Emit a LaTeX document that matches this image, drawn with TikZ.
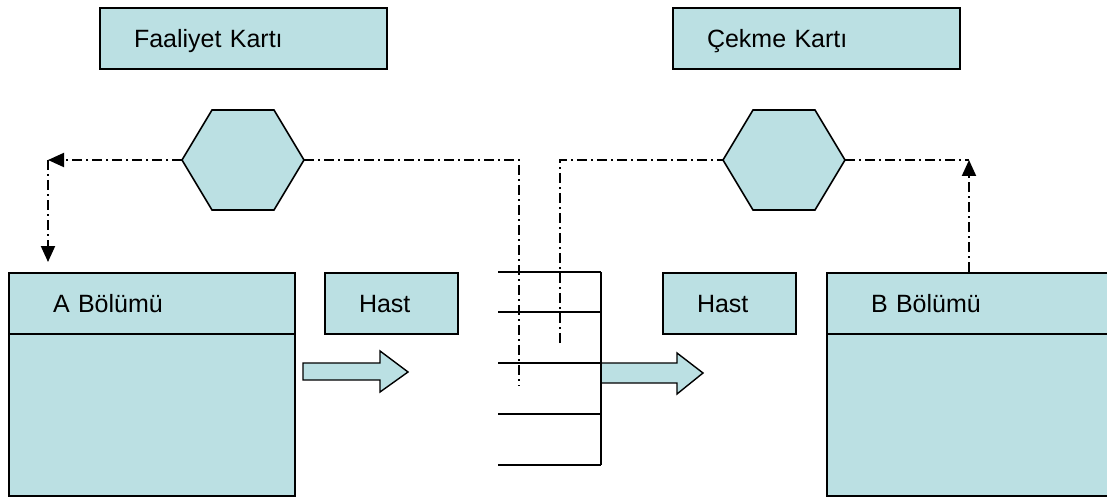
\documentclass[tikz,border=0pt]{standalone}
\usepackage{fontspec}
\setmainfont{Liberation Sans}
\usetikzlibrary{arrows.meta,calc}
\definecolor{cardfill}{RGB}{187,224,227}
\tikzset{
  card/.style={draw=black, line width=2pt, fill=cardfill, anchor=north west,
    inner xsep=34pt, inner ysep=0pt, minimum height=61pt, align=left,
    text height=18pt, text depth=0pt, font=\fontsize{25}{29}\selectfont},
  bodybox/.style={draw=black, line width=2pt, fill=cardfill, anchor=north west,
    inner sep=0pt, minimum width=286pt, minimum height=162pt},
  hexshape/.style={draw=black, line width=1.6pt, fill=cardfill, line join=miter},
  dd/.style={line width=2pt, dash pattern=on 10pt off 4pt on 2pt off 4pt},
  tip/.style={-{Triangle[length=16pt,width=14pt]}},
  rack/.style={line width=1.6pt},
  blockarrow/.style={draw=black, line width=1.4pt, fill=cardfill, line join=miter},
}
\begin{document}
\begin{tikzpicture}[x=1pt,y=-1pt]
\useasboundingbox (0,0) rectangle (1107,497);

% card labels at the top
\node[card, text width=219pt] (fk) at (99,7) {Faaliyet Kartı};
\node[card, text width=219pt] (ck) at (672,7) {Çekme Kartı};

% departments
\node[bodybox] (aBody) at (8,333) {};
\node[card, inner xsep=44pt, text width=198pt] (aHead) at (8,272) {A Bölümü};
\node[bodybox] (bBody) at (826,333) {};
\node[card, inner xsep=44pt, text width=198pt] (bHead) at (826,272) {B Bölümü};

% stock points
\node[card, text width=65pt] (hastA) at (324,272) {Hast};
\node[card, text width=65pt] (hastB) at (662,272) {Hast};

% card posts
\coordinate (hexA) at (243,160);
\coordinate (hexB) at (784,160);
\coordinate (hexAw) at ($(hexA)+(-61,0)$);
\coordinate (hexAe) at ($(hexA)+(61,0)$);
\coordinate (hexBw) at ($(hexB)+(-61,0)$);
\coordinate (hexBe) at ($(hexB)+(61,0)$);
\draw[hexshape] (hexAw) -- ++(30,-50) -- ++(62,0) -- (hexAe) -- ++(-30,50) -- ++(-62,0) -- cycle;
\draw[hexshape] (hexBw) -- ++(30,-50) -- ++(62,0) -- (hexBe) -- ++(-30,50) -- ++(-62,0) -- cycle;

% material flow
\draw[blockarrow] (303,363) -- (380,363) -- (380,351) -- (408,372) -- (380,392) -- (380,380) -- (303,380) -- cycle;
\draw[blockarrow] (601,363) -- (677,363) -- (677,353) -- (703,373) -- (677,394) -- (677,383) -- (601,383) -- cycle;

% storage rack
\coordinate (rTop) at (601,272);
\coordinate (rBot) at (601,465);
\foreach \y/\n in {272/1,312/2,363/3,414/4,465/5}{
  \coordinate (sL\n) at (498,\y);
  \coordinate (sR\n) at (601,\y);
  \draw[rack] (sL\n) -- (sR\n);
}
\draw[rack] (rTop) -- (rBot);

% card loops
\coordinate (cornerA) at (48,160);
\coordinate (cornerB) at (969,160);
\coordinate (dropA) at (519,386);
\coordinate (riseB) at (560,343);
\draw[dd, tip] (hexAw) -- (cornerA);
\draw[dd, tip, shorten >=10pt] (cornerA) -- (cornerA |- aHead.north);
\draw[dd] (hexAe) -| (dropA);
\draw[dd] (riseB) |- (hexBw);
\draw[dd] (hexBe) -- (cornerB);
\draw[dd, tip] (cornerB |- bHead.north) -- (cornerB);
\end{tikzpicture}
\end{document}
